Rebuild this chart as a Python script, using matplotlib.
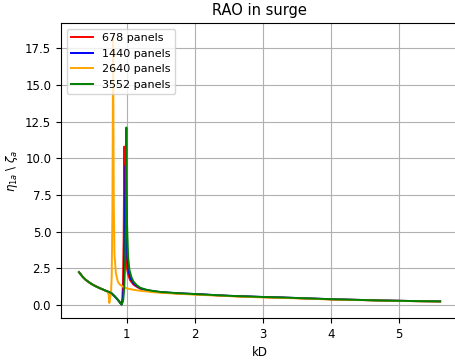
import numpy as np
import matplotlib
matplotlib.use("Agg")
import matplotlib.pyplot as plt

# RAO in surge for four mesh refinements
kD_678 = [0.30, 0.35, 0.40, 0.45, 0.50, 0.55, 0.60, 0.65, 0.70, 0.75, 0.78, 0.82, 0.86, 0.89,
          0.91, 0.92, 0.935, 0.945, 0.955, 0.965, 0.975, 0.985, 1.00, 1.02, 1.05, 1.10, 1.15,
          1.20, 1.30, 1.40, 1.50, 1.75, 2.00, 2.25, 2.50, 2.75, 3.00, 3.25, 3.50, 3.75, 4.00,
          4.25, 4.50, 4.75, 5.00, 5.25, 5.60]
rao_678 = [2.25, 1.95, 1.72, 1.55, 1.40, 1.28, 1.17, 1.07, 0.97, 0.88, 0.80, 0.62, 0.42, 0.25,
           0.12, 0.06, 0.4, 1.5, 4.5, 10.8, 5.5, 3.6, 2.6, 2.1, 1.7, 1.4, 1.25, 1.12, 1.00,
           0.93, 0.88, 0.80, 0.75, 0.69, 0.63, 0.59, 0.55, 0.52, 0.48, 0.44, 0.40, 0.37, 0.35,
           0.32, 0.30, 0.28, 0.26]

kD_1440 = [0.30, 0.35, 0.40, 0.45, 0.50, 0.55, 0.60, 0.65, 0.70, 0.75, 0.78, 0.82, 0.86, 0.89,
           0.91, 0.925, 0.94, 0.955, 0.965, 0.975, 0.985, 0.995, 1.01, 1.03, 1.06, 1.10, 1.15,
           1.20, 1.30, 1.40, 1.50, 1.75, 2.00, 2.25, 2.50, 2.75, 3.00, 3.25, 3.50, 3.75, 4.00,
           4.25, 4.50, 4.75, 5.00, 5.25, 5.60]
rao_1440 = [2.25, 1.95, 1.72, 1.55, 1.40, 1.28, 1.17, 1.07, 0.97, 0.88, 0.80, 0.62, 0.42, 0.25,
            0.12, 0.05, 0.3, 1.2, 3.0, 6.5, 9.5, 5.0, 3.2, 2.3, 1.8, 1.5, 1.3, 1.15, 1.02,
            0.95, 0.89, 0.81, 0.76, 0.70, 0.64, 0.60, 0.56, 0.53, 0.49, 0.45, 0.41, 0.38, 0.35,
            0.32, 0.30, 0.28, 0.26]

kD_2640 = [0.30, 0.35, 0.40, 0.45, 0.50, 0.55, 0.60, 0.65, 0.70, 0.72, 0.735, 0.745, 0.755,
           0.77, 0.78, 0.79, 0.795, 0.80, 0.81, 0.82, 0.84, 0.87, 0.90, 0.95, 1.00, 1.10, 1.20,
           1.30, 1.40, 1.50, 1.75, 2.00, 2.25, 2.50, 2.75, 3.00, 3.25, 3.50, 3.75, 4.00, 4.25,
           4.50, 4.75, 5.00, 5.25, 5.60]
rao_2640 = [2.25, 1.95, 1.72, 1.55, 1.40, 1.28, 1.17, 1.07, 0.97, 0.90, 0.70, 0.15, 0.45,
            0.9, 2.0, 6.5, 12.0, 18.3, 7.0, 3.5, 2.2, 1.6, 1.4, 1.25, 1.15, 1.05, 0.98,
            0.93, 0.88, 0.85, 0.78, 0.72, 0.67, 0.62, 0.57, 0.53, 0.50, 0.47, 0.43, 0.39, 0.36,
            0.34, 0.31, 0.29, 0.27, 0.25]

kD_3552 = [0.30, 0.35, 0.40, 0.45, 0.50, 0.55, 0.60, 0.65, 0.70, 0.75, 0.78, 0.82, 0.86, 0.89,
           0.91, 0.93, 0.95, 0.965, 0.975, 0.985, 0.995, 1.005, 1.02, 1.04, 1.07, 1.10, 1.15,
           1.20, 1.30, 1.40, 1.50, 1.75, 2.00, 2.25, 2.50, 2.75, 3.00, 3.25, 3.50, 3.75, 4.00,
           4.25, 4.50, 4.75, 5.00, 5.25, 5.60]
rao_3552 = [2.25, 1.95, 1.72, 1.55, 1.40, 1.28, 1.17, 1.07, 0.97, 0.88, 0.80, 0.62, 0.42, 0.25,
            0.12, 0.05, 0.4, 1.3, 2.8, 5.5, 12.1, 5.5, 3.3, 2.4, 1.9, 1.6, 1.35, 1.18, 1.04,
            0.96, 0.90, 0.82, 0.76, 0.70, 0.64, 0.60, 0.56, 0.53, 0.49, 0.45, 0.41, 0.38, 0.35,
            0.32, 0.30, 0.28, 0.26]

plt.rcParams['font.size'] = 8.5

fig = plt.figure(figsize=(4.55, 3.6), dpi=100)
ax = fig.add_axes([0.134, 0.117, 0.873, 0.819])

lw = 1.4
ax.plot(kD_678, rao_678, color="red", lw=lw, label="678 panels")
ax.plot(kD_1440, rao_1440, color="blue", lw=lw, label="1440 panels")
ax.plot(kD_2640, rao_2640, color="orange", lw=lw, label="2640 panels")
ax.plot(kD_3552, rao_3552, color="green", lw=lw, label="3552 panels")

ax.set_title("RAO in surge", fontsize=10.5)
ax.set_xlabel("kD")
ax.set_ylabel(r"$\eta_{1a}$ \ $\zeta_a$")
ax.set_xticks([1, 2, 3, 4, 5])
ax.set_yticks(np.arange(0, 17.6, 2.5))
ax.grid(True, lw=0.8)
ax.legend(loc="upper left", fontsize=8)

fig.savefig("out.png", dpi=100)
